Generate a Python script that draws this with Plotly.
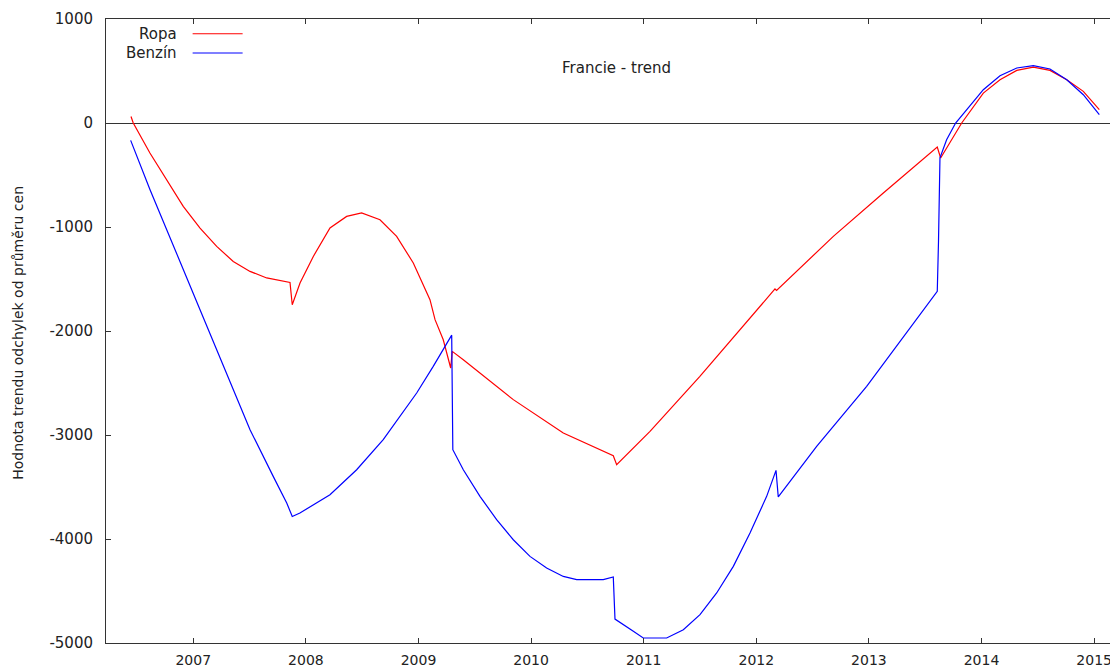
import plotly.graph_objects as go

# ---- data ----
ropa_x = [2006.447, 2006.467, 2006.615, 2006.764, 2006.911, 2007.06, 2007.208, 2007.355,
          2007.504, 2007.652, 2007.859, 2007.879, 2007.948, 2008.066, 2008.214, 2008.362,
          2008.495, 2008.658, 2008.806, 2008.954, 2009.102, 2009.147, 2009.22, 2009.286,
          2009.30, 2009.398, 2009.842, 2010.286, 2010.73, 2010.76, 2011.056, 2011.499,
          2012.166, 2012.18, 2012.684, 2013.128, 2013.607, 2013.637, 2013.72, 2013.824,
          2014.016, 2014.164, 2014.313, 2014.46, 2014.608, 2014.757, 2014.904, 2015.046]
ropa_y = [63, 0, -288, -545, -802, -1010, -1187, -1331,
          -1427, -1490, -1533, -1747, -1538, -1283, -1010, -898,
          -865, -930, -1090, -1346, -1699, -1891, -2084, -2356,
          -2196, -2276, -2660, -2981, -3199, -3286, -2965, -2436,
          -1596, -1610, -1090, -673, -231, -337, -192, 0,
          288, 416, 506, 538, 506, 416, 304, 128]

benzin_x = [2006.444, 2006.616, 2007.06, 2007.355, 2007.504, 2007.71, 2007.83, 2007.879,
            2007.947, 2008.214, 2008.451, 2008.687, 2008.836, 2008.984, 2009.131, 2009.295,
            2009.305, 2009.398, 2009.546, 2009.694, 2009.842, 2009.99, 2010.138, 2010.286,
            2010.405, 2010.641, 2010.73, 2010.745, 2010.908, 2010.996, 2011.204, 2011.352,
            2011.5, 2011.648, 2011.796, 2011.944, 2012.092, 2012.175, 2012.195, 2012.536,
            2012.98, 2013.607, 2013.618, 2013.631, 2013.69, 2013.77, 2014.016, 2014.164,
            2014.313, 2014.46, 2014.608, 2014.757, 2014.904, 2015.046]
benzin_y = [-167, -641, -1795, -2564, -2949, -3398, -3654, -3783,
            -3750, -3575, -3334, -3045, -2821, -2596, -2340, -2040,
            -3141, -3334, -3590, -3814, -4007, -4167, -4279, -4360,
            -4391, -4391, -4365, -4770, -4888, -4952, -4952, -4872,
            -4728, -4519, -4263, -3942, -3590, -3340, -3596, -3110,
            -2532, -1619, -1140, -334, -161, 0, 320, 455,
            529, 551, 519, 416, 272, 80]

x_ticks = [2007, 2008, 2009, 2010, 2011, 2012, 2013, 2014, 2015]
y_ticks = [1000, 0, -1000, -2000, -3000, -4000, -5000]

series_names = ["Ropa", "Benzín"]
series_colors = ["#ff0000", "#0000ff"]
title_text = "Francie - trend"
y_title = "Hodnota trendu odchylek od průměru cen"

FONT = "DejaVu Sans"
AXC = "#333333"
TXT = "#222222"

fig = go.Figure()
fig.add_trace(go.Scatter(x=ropa_x, y=ropa_y, mode="lines", name=series_names[0],
                         line=dict(color=series_colors[0], width=1.2), showlegend=False))
fig.add_trace(go.Scatter(x=benzin_x, y=benzin_y, mode="lines", name=series_names[1],
                         line=dict(color=series_colors[1], width=1.2), showlegend=False))
# helper trace so the right-hand (tick-only) axis is drawn
fig.add_trace(go.Scatter(x=[None], y=[None], yaxis="y2", showlegend=False, hoverinfo="skip"))

fig.update_layout(
    width=1110, height=661,
    margin=dict(l=98, r=0, t=11, b=26),
    paper_bgcolor="white", plot_bgcolor="white",
    font=dict(family=FONT, color=TXT, size=15),
    xaxis=dict(range=[2006.225, 2015.212], tickvals=x_ticks, ticktext=[str(v) for v in x_ticks],
               ticks="inside", ticklen=5, tickcolor=AXC, showline=True, linecolor=AXC,
               linewidth=1, mirror="ticks", showgrid=False, zeroline=False, automargin=False,
               ticklabelstandoff=4, tickfont=dict(size=14)),
    yaxis=dict(range=[-5000, 1000], tickvals=y_ticks, ticktext=[str(v) for v in y_ticks],
               ticks="inside", ticklen=5, tickcolor=AXC, showline=True, linecolor=AXC,
               linewidth=1, showgrid=False, zeroline=True, zerolinecolor=AXC, zerolinewidth=1,
               automargin=False, ticklabelstandoff=9, tickfont=dict(size=15)),
    yaxis2=dict(range=[-5000, 1000], tickvals=y_ticks, overlaying="y", side="right",
                ticks="inside", ticklen=5, tickcolor=AXC, showticklabels=False,
                showline=False, showgrid=False, zeroline=False, automargin=False),
)

# title inside plot
fig.add_annotation(x=0.5045, y=0.922, xref="paper", yref="paper", text=title_text,
                   showarrow=False, xanchor="center", yanchor="middle",
                   font=dict(family=FONT, size=15, color=TXT))
# y-axis title
fig.add_annotation(x=-0.087, y=0.497, xref="paper", yref="paper", text=y_title,
                   textangle=-90, showarrow=False, xanchor="center", yanchor="middle",
                   font=dict(family=FONT, size=14, color=TXT))

# legend (gnuplot style: text right-aligned, sample line on the right)
leg_y = [0.9764, 0.9455]
for name, col, yy in zip(series_names, series_colors, leg_y):
    fig.add_annotation(x=0.0721, y=yy, xref="paper", yref="paper", text=name,
                       showarrow=False, xanchor="right", yanchor="middle",
                       font=dict(family=FONT, size=15, color=TXT))
    fig.add_shape(type="line", xref="paper", yref="paper", x0=0.0856, x1=0.1350,
                  y0=yy, y1=yy, line=dict(color=col, width=1.2))

fig.write_html("out.html")
